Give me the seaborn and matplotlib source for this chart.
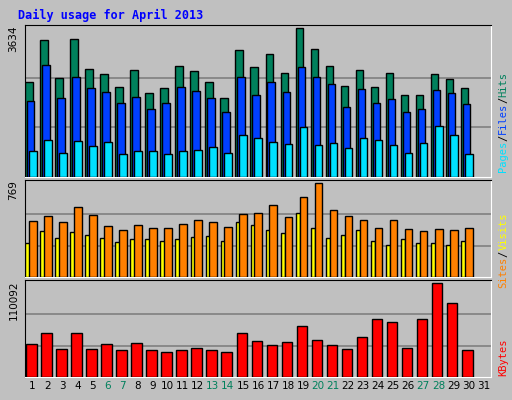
import matplotlib
matplotlib.use("Agg")
import matplotlib.pyplot as plt
import numpy as np
import pandas as pd
import seaborn as sns

days = np.arange(1, 31)
hits = [2322, 3335, 2421, 3359, 2643, 2519, 2198, 2618, 2050, 2174, 2717, 2594, 2322, 1927, 3088,
        2692, 2989, 2544, 3634, 3112, 2717, 2223, 2618, 2198, 2544, 2001, 2001, 2519, 2396, 2174]
files = [1853, 2742, 1927, 2445, 2174, 2075, 1803, 1951, 1655, 1803, 2198, 2100, 1927, 1581, 2445,
         2001, 2322, 2075, 2692, 2445, 2272, 1704, 2149, 1803, 1902, 1581, 1655, 2124, 2050, 1778]
pages = [642, 914, 593, 889, 766, 865, 568, 642, 642, 568, 642, 667, 741, 593, 1013,
         939, 865, 815, 1210, 790, 840, 716, 939, 914, 790, 593, 840, 1235, 1013, 568]
visits = [458, 500, 450, 575, 508, 416, 383, 425, 400, 400, 433, 466, 450, 408, 516,
          525, 591, 491, 650, 769, 550, 500, 466, 400, 466, 391, 375, 391, 383, 400]
sites = [278, 375, 316, 366, 341, 316, 283, 308, 308, 291, 308, 325, 333, 291, 450,
         425, 383, 358, 525, 400, 316, 341, 383, 291, 258, 308, 275, 275, 258, 291]
kbytes = [38700, 52000, 32600, 52000, 32600, 38700, 31400, 39900, 31400, 29000, 31400, 33900, 31400, 29000, 52000,
          42300, 37500, 41100, 59200, 43500, 37500, 32600, 47100, 67700, 64100, 33900, 67700, 110092, 87000, 31400]
weekends = [6, 7, 13, 14, 20, 21, 27, 28]
max_labels = ["3634", "769", "110092"]

BG = "#c0c0c0"
fig = plt.figure(figsize=(5.12, 4.0), dpi=100, facecolor=BG)
fig.text(0.035, 0.962, "Daily usage for April 2013", color="#0000ff", fontsize=8.5,
         fontweight="bold", family="DejaVu Sans Mono", va="center")

left, width = 25 / 512, 466 / 512
ax_top = fig.add_axes([left, 0.5575, width, 0.38])
ax_mid = fig.add_axes([left, 0.3075, width, 0.2425])
ax_bot = fig.add_axes([left, 0.0575, width, 0.2425])


def bars(ax, values, offset, w, color):
    df = pd.DataFrame({"x": days + offset, "y": values})
    sns.barplot(data=df, x="x", y="y", native_scale=True, width=w, color=color,
                edgecolor="black", linewidth=1, saturation=1, ax=ax, zorder=3)


bars(ax_top, hits, -0.25, 0.5, "#00805c")
bars(ax_top, files, -0.12, 0.5, "#0040ff")
bars(ax_top, pages, 0.02, 0.51, "#00e0ff")
bars(ax_mid, sites, -0.34, 0.3, "#ffff00")
bars(ax_mid, visits, 0.02, 0.51, "#ff8000")
bars(ax_bot, kbytes, -0.08, 0.7, "#ff0000")

tops = [3634 * 1.02, 769 * 1.03, 110092 * 1.03]
maxes = [3634, 769, 110092]
for ax, top, mx, lab in zip([ax_top, ax_mid, ax_bot], tops, maxes, max_labels):
    ax.set_facecolor(BG)
    ax.set_xlim(0.5, 31.5)
    ax.set_ylim(0, top)
    ax.set_xlabel("")
    ax.set_ylabel("")
    ax.set_yticks([])
    for g in (mx / 3, 2 * mx / 3):
        ax.axhline(g, color="#808080", lw=1.2, zorder=1)
    for side in ["left", "top"]:
        ax.spines[side].set_color("black")
    for side in ["right", "bottom"]:
        ax.spines[side].set_color("white")
    ax.text(-0.025, 1.0, lab, transform=ax.transAxes, rotation=90, ha="center",
            va="top", fontsize=7.5, color="black")

ax_top.set_xticks([])
ax_mid.set_xticks([])
ax_bot.set_xticks(np.arange(1, 32))
ax_bot.set_xticklabels([str(d) for d in range(1, 32)], fontsize=7.5)
ax_bot.tick_params(axis="x", length=0, pad=3)
for t, d in zip(ax_bot.get_xticklabels(), range(1, 32)):
    t.set_color("#00805c" if d in weekends else "black")

fig.canvas.draw()
renderer = fig.canvas.get_renderer()


def side_label(parts, y_bottom):
    # stack coloured pieces bottom-to-top using measured extents
    y = y_bottom
    for txt, col in parts:
        t = fig.text(0.983, y, txt, rotation=90, color=col, fontsize=7.5,
                     family="DejaVu Sans Mono", ha="center", va="bottom")
        bb = t.get_window_extent(renderer)
        y += bb.height / fig.bbox.height


side_label([("Pages", "#00e0ff"), ("/", "black"), ("Files", "#0040ff"),
            ("/", "black"), ("Hits", "#00805c")], 0.57)
side_label([("Sites", "#ff8000"), ("/", "black"), ("Visits", "#ffff00")], 0.28)
side_label([("KBytes", "#ff0000")], 0.06)

fig.savefig("out.png", dpi=100, facecolor=BG)
